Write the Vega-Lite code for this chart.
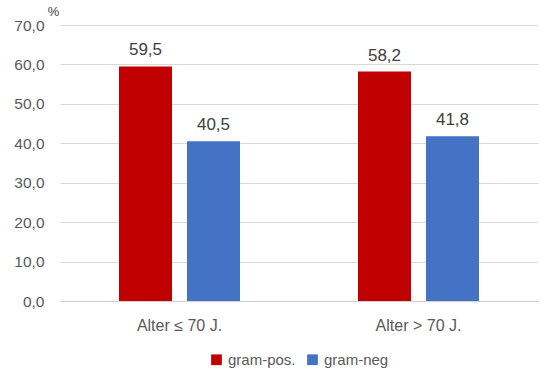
{
  "$schema": "https://vega.github.io/schema/vega-lite/v6.json",
  "width": 478,
  "height": 276,
  "autosize": {"type": "none"},
  "padding": {"left": 60, "top": 25, "right": 10, "bottom": 73},
  "config": {
    "locale": {"number": {"decimal": ",", "thousands": ".", "grouping": [3], "currency": ["", " €"]}},
    "view": {"stroke": null},
    "font": "Liberation Sans"
  },
  "data": {
    "values": [
      {"group": "Alter ≤ 70 J.", "type": "gram-pos.", "value": 59.5},
      {"group": "Alter ≤ 70 J.", "type": "gram-neg", "value": 40.5},
      {"group": "Alter > 70 J.", "type": "gram-pos.", "value": 58.2},
      {"group": "Alter > 70 J.", "type": "gram-neg", "value": 41.8}
    ]
  },
  "encoding": {
    "x": {
      "field": "group", "type": "nominal", "sort": null,
      "scale": {"paddingInner": 0, "paddingOuter": 0},
      "axis": {
        "title": null, "labelAngle": 0, "ticks": false, "domainColor": "#d0d0d0",
        "labelFontSize": 16, "labelColor": "#595959", "labelPadding": 16
      }
    },
    "xOffset": {
      "field": "type", "type": "nominal", "sort": ["gram-pos.", "gram-neg"],
      "scale": {"paddingInner": 0.22, "paddingOuter": 0.868}
    },
    "y": {
      "field": "value", "type": "quantitative",
      "scale": {"domain": [0, 70]},
      "axis": {
        "values": [0, 10, 20, 30, 40, 50, 60, 70], "format": ".1f",
        "title": "%", "titleAngle": 0, "titleX": -7, "titleY": -7,
        "titleFontSize": 13, "titleFontWeight": "normal", "titleColor": "#404040",
        "labelFontSize": 15.5, "labelColor": "#595959", "labelPadding": 16,
        "ticks": false, "domain": false, "gridColor": "#d9d9d9"
      }
    }
  },
  "layer": [
    {
      "mark": {"type": "bar"},
      "encoding": {
        "color": {
          "field": "type", "type": "nominal",
          "scale": {"domain": ["gram-pos.", "gram-neg"], "range": ["#C00000", "#4472C4"]},
          "legend": {
            "title": null, "orient": "none", "direction": "horizontal",
            "legendX": 149, "legendY": 327,
            "symbolType": "square", "symbolSize": 115, "symbolStrokeWidth": 0,
            "labelFontSize": 15, "labelColor": "#595959", "columnPadding": 9, "labelOffset": 4
          }
        }
      }
    },
    {
      "mark": {"type": "text", "baseline": "alphabetic", "dy": -11, "fontSize": 17, "color": "#404040"},
      "encoding": {
        "text": {"field": "value", "type": "quantitative", "format": ".1f"}
      }
    }
  ]
}
